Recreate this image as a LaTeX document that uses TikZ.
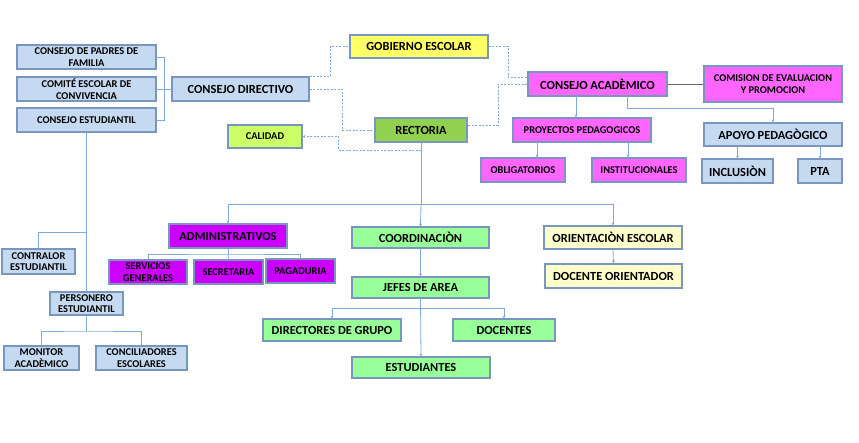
\documentclass[tikz,border=0pt]{standalone}
\usepackage{fontspec}
\setmainfont{Carlito}
\usetikzlibrary{arrows.meta}
\definecolor{lblue}{HTML}{C5D9F1}
\definecolor{bord}{HTML}{7896BE}
\definecolor{lnc}{HTML}{7FAADB}
\definecolor{yel}{HTML}{FFFF66}
\definecolor{pinkm}{HTML}{FF66FF}
\definecolor{purp}{HTML}{CC00FF}
\definecolor{lime}{HTML}{CCFF66}
\definecolor{rect}{HTML}{92D050}
\definecolor{lgreen}{HTML}{99FF99}
\definecolor{cream}{HTML}{FFFFCC}
\tikzset{
  box/.style={draw=bord, line width=1.1pt, inner sep=0pt, align=center, text=black},
  big/.style={box, font=\fontsize{12.4}{13}\selectfont\bfseries},
  small/.style={box, font=\fontsize{10.4}{11.5}\selectfont\bfseries},
  ln/.style={draw=lnc, line width=0.8pt},
  dsh/.style={draw=lnc, line width=0.8pt, dash pattern=on 2pt off 1.5pt},
  arr/.style={-{Stealth[length=3pt,width=3pt]}},
}
\begin{document}
\begin{tikzpicture}[x=1pt,y=-1pt]
\path[use as bounding box, fill=white] (0,0) rectangle (859,443);
% left group
\node[small, fill=lblue, minimum width=139, minimum height=24] (padres) at (86.5,57) {CONSEJO DE PADRES DE\\FAMILIA};
\node[small, fill=lblue, minimum width=139, minimum height=24] (comite) at (86.5,89) {COMITÉ ESCOLAR DE\\CONVIVENCIA};
\node[small, fill=lblue, minimum width=139, minimum height=24] (estud) at (86.5,120) {CONSEJO ESTUDIANTIL};
\node[big, fill=lblue, minimum width=137, minimum height=24] (directivo) at (240.5,89) {CONSEJO DIRECTIVO};
\node[small, fill=lime, minimum width=74, minimum height=23] (calidad) at (265,136.5) {CALIDAD};
\node[big, fill=yel, minimum width=138, minimum height=23] (gobierno) at (419,46.5) {GOBIERNO ESCOLAR};
\node[big, fill=pinkm, minimum width=139, minimum height=24] (academico) at (597.5,84) {CONSEJO ACADÈMICO};
\node[big, fill=rect, minimum width=92, minimum height=24] (rectoria) at (421,130) {RECTORIA};
\node[small, fill=pinkm, minimum width=138, minimum height=36] (comision) at (773,84) {COMISION DE EVALUACION\\Y PROMOCION};
\node[small, fill=pinkm, minimum width=138, minimum height=24] (proyectos) at (582,130) {PROYECTOS PEDAGOGICOS};
\node[small, fill=pinkm, minimum width=84, minimum height=24] (oblig) at (523,170) {OBLIGATORIOS};
\node[small, fill=pinkm, minimum width=94, minimum height=24] (instit) at (639,170) {INSTITUCIONALES};
\node[big, fill=lblue, minimum width=138, minimum height=23] (apoyo) at (773,134.5) {APOYO PEDAGÒGICO};
\node[big, fill=lblue, minimum width=71, minimum height=24] (inclusion) at (737.5,171) {INCLUSIÒN};
\node[big, fill=lblue, minimum width=44, minimum height=24] (pta) at (820,171) {PTA};
\node[small, fill=lblue, minimum width=73, minimum height=25] (contralor) at (38.5,261.5) {CONTRALOR\\ESTUDIANTIL};
\node[small, fill=lblue, minimum width=73, minimum height=23] (personero) at (86.5,303.5) {PERSONERO\\ESTUDIANTIL};
\node[small, fill=lblue, minimum width=75, minimum height=24] (monitor) at (41.5,358) {MONITOR\\ACADÈMICO};
\node[small, fill=lblue, minimum width=91, minimum height=24] (concil) at (141.5,358) {CONCILIADORES\\ESCOLARES};
\node[big, fill=purp, minimum width=118, minimum height=24] (admin) at (228,236) {ADMINISTRATIVOS};
\node[small, fill=purp, minimum width=78, minimum height=24] (servicios) at (148,272) {SERVICIOS\\GENERALES};
\node[small, fill=purp, minimum width=69, minimum height=24] (secretaria) at (228.5,272) {SECRETARIA};
\node[small, fill=purp, minimum width=69, minimum height=24] (pagaduria) at (300.5,271) {PAGADURIA};
\node[big, fill=lgreen, minimum width=137, minimum height=21] (coord) at (420.5,237.5) {COORDINACIÒN};
\node[big, fill=cream, minimum width=138, minimum height=23] (orient) at (613,237.5) {ORIENTACIÒN ESCOLAR};
\node[big, fill=cream, minimum width=137, minimum height=24] (docori) at (613.5,276) {DOCENTE ORIENTADOR};
\node[big, fill=lgreen, minimum width=137, minimum height=21] (jefes) at (420.5,287.5) {JEFES DE AREA};
\node[big, fill=lgreen, minimum width=138, minimum height=22] (directores) at (332,330) {DIRECTORES DE GRUPO};
\node[big, fill=lgreen, minimum width=102, minimum height=22] (docentes) at (504,330) {DOCENTES};
\node[big, fill=lgreen, minimum width=138, minimum height=21] (estudiantes) at (421,367.5) {ESTUDIANTES};
% coordinates
\coordinate (brk) at (164,89);
\coordinate (c1) at (86.5,232);
\coordinate (pb) at (86.5,331);
\coordinate (g1) at (330,46.5);
\coordinate (r1) at (342,110);
\coordinate (g2) at (508,60);
\coordinate (a1) at (528,77);
\coordinate (a2) at (498,105);
\coordinate (re1) at (467,125);
\coordinate (q1) at (421,150);
\coordinate (q2) at (338,136.5);
\coordinate (hub) at (421,204);
\coordinate (ab) at (228,254);
\coordinate (jb) at (420.5,308);
\coordinate (ps1) at (576,96);
\coordinate (ob1) at (537,142);
\coordinate (in1) at (628,142);
\coordinate (ac2) at (627,96);
\coordinate (ap1) at (773,108);
% left bracket
\draw[ln] (padres.east) -| (brk);
\draw[ln] (estud.east) -| (brk);
\draw[ln] (comite.east) -- (directivo.west);
\draw[ln] (estud.south) -- (personero.north);
\draw[ln] (c1) -| (contralor.north);
\draw[ln] (personero.south) -- (pb);
\draw[ln] (monitor.north) |- (pb) -| (concil.north);
% dashed
\draw[dsh] (directivo.north east) -| (g1) -- (gobierno.west);
\draw[dsh] (directivo.east) -| (r1) |- (rectoria.west);
\draw[dsh] (gobierno.east) -| (g2) |- (a1);
\draw[dsh] (academico.west) -| (a2) |- (re1);
\draw[dsh, arr] (q1) -| (q2) -- (calidad.east);
% rectoria tree
\draw[ln] (rectoria.south) -- (hub);
\draw[ln, arr] (hub) -| (admin.north);
\draw[ln, arr] (hub) -| (orient.north);
\draw[ln, arr] (hub) -- (coord.north);
\draw[ln] (admin.south) -- (ab);
\draw[ln] (servicios.north) |- (ab) -| (pagaduria.north);
\draw[ln] (ab) -- (secretaria.north);
\draw[ln, arr] (coord.south) -- (jefes.north);
\draw[ln, arr] (jefes.south) -- (estudiantes.north);
\draw[ln, arr] (jb) -| (directores.north);
\draw[ln, arr] (jb) -| (docentes.north);
\draw[ln, arr] (orient.south) -- (docori.north);
% academico
\draw[draw=gray!80!black, line width=0.8pt] (academico.east) -- (comision.west);
\draw[ln, arr] (ps1) -- (ps1 |- proyectos.north);
\draw[ln, arr] (ob1) -- (ob1 |- oblig.north);
\draw[ln, arr] (in1) -- (in1 |- instit.north);
\draw[ln, arr] (ac2) |- (ap1) -- (apoyo.north);
\draw[ln, arr] (apoyo.south -| inclusion.north) -- (inclusion.north);
\draw[ln, arr] (apoyo.south -| pta.north) -- (pta.north);
\end{tikzpicture}
\end{document}
